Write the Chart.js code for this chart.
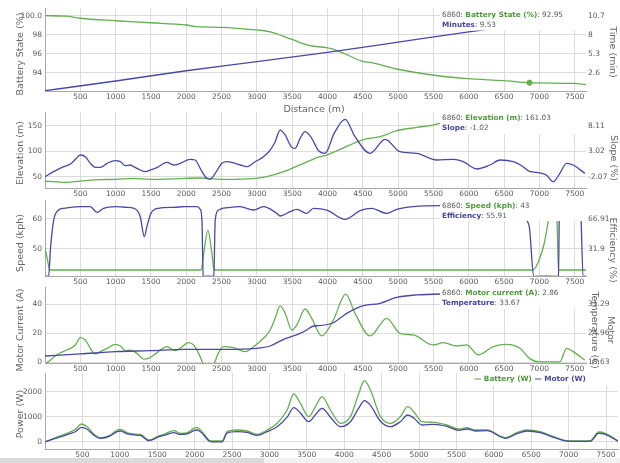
<!DOCTYPE html>
<html>
<head>
<meta charset="utf-8">
<script src="https://cdn.jsdelivr.net/npm/chart.js@4.4.1/dist/chart.umd.min.js"></script>
<style>
  html, body { margin: 0; padding: 0; background: #fff; }
  body { width: 620px; height: 463px; position: relative; overflow: hidden; }
  canvas { position: absolute; left: 0; }
  .track { position: absolute; left: 0; top: 458px; width: 620px; height: 5px; background: #f2f2f2; }
  .thumb { position: absolute; left: 0; top: 458px; width: 264px; height: 5px; background: #dadada; }
</style>
</head>
<body>
<div class="track"></div><div class="thumb"></div>
<script>
// ---- shared distance axis ----
const distTicks = [500, 1000, 1500, 2000, 2500, 3000, 3500, 4000, 4500, 5000, 5500, 6000, 6500, 7000, 7500];
const distMax = 7660;
const cursorDist = 6860;

// ---- battery state / minutes ----
const battDist = [0, 300, 500, 1000, 1500, 2000, 2150, 2490, 2990, 3190, 3495, 3750, 3990, 4180, 4485, 4670, 4980, 5480, 5980, 6490, 6860, 6980, 7480, 7660];
const battPct  = [100.0, 99.95, 99.73, 99.47, 99.26, 99.02, 98.84, 98.78, 98.5, 98.3, 97.5, 96.85, 96.63, 96.2, 95.23, 94.99, 94.39, 93.76, 93.37, 93.16, 92.95, 92.92, 92.87, 92.74];
const minDist = [0, 1000, 2000, 3000, 4000, 5000, 6000, 6860, 7660];
const minVal  = [0.04, 1.42, 2.88, 4.16, 5.5, 6.95, 8.4, 9.53, 10.7];
const battTicks = [94, 96, 98, 100], battTickLabels = ['94', '96', '98', '100.0'];
const minTicks = [2.6, 5.3, 8, 10.7];

// ---- elevation / slope ----
const elevDist = [0, 310, 500, 780, 1000, 1255, 1490, 1985, 2200, 2490, 2990, 3140, 3380, 3495, 3610, 3800, 3895, 3990, 4180, 4485, 4745, 4980, 5265, 5485, 5595, 6000, 6500, 6860, 7300, 7660];
const elevM    = [41.5, 38.9, 41.5, 44.1, 44.8, 46.7, 44.8, 46.7, 47.4, 44.8, 46.7, 50, 59.8, 66.3, 73, 84.6, 89.2, 92.5, 103.6, 121.9, 128.4, 140.2, 146.7, 151.3, 154.6, 157.5, 159.8, 161.03, 161.5, 161.8];
const slopeDist = [0, 123, 265, 359, 430, 501, 571, 642, 713, 784, 878, 996, 1067, 1138, 1208, 1255, 1349, 1420, 1491, 1585, 1726, 1821, 1915, 2056, 2127, 2198, 2292, 2339, 2410, 2504, 2575, 2764, 2858, 2976, 3093, 3188, 3259, 3329, 3400, 3495, 3542, 3612, 3683, 3777, 3872, 3966, 4094, 4249, 4390, 4602, 4815, 5027, 5263, 5546, 5782, 5923, 6112, 6301, 6442, 6631, 6750, 6860, 7007, 7102, 7196, 7290, 7385, 7479, 7644];
const slopePct  = [-2.07, -1.07, -0.07, 0.45, 1.39, 2.26, 1.92, 0.59, -0.21, -0.21, 0.59, 1.13, 0.92, 0.13, 0.26, -0.07, -0.74, -1.07, -0.74, -0.28, 0.79, 0.26, 0.59, 1.39, 1.26, -0.41, -2.41, -2.54, -1.41, 0.59, 0.92, 0.26, -0.07, 0.92, 1.92, 3.25, 4.91, 7.24, 6.25, 3.78, 3.59, 5.59, 6.91, 5.59, 3.12, 2.59, 6.58, 9.37, 5.91, 2.59, 5.38, 2.92, 2.59, 1.26, 1.39, 0.92, -0.54, 0.26, 1.26, 0.92, 0.1, -1.02, -1.3, -1.8, -3.07, -1.41, 0.59, 0.26, -1.41];
const elevTicks = [50, 100, 150];
const slopeTicks = [-2.07, 3.02, 8.11];

// ---- speed / efficiency ----
const speedDist = [0, 30, 70, 2210, 2250, 2306, 2360, 2395, 6860, 6910, 6990, 7070, 7130, 7180, 7235, 7255, 7270, 7660];
const speedKph  = [50.2, 47, 43, 43, 49, 56.3, 49, 43, 43, 43, 46, 52, 60, 68, 70, 55, 43, 43];
const effDist = [0, 50, 80, 123, 194, 265, 500, 642, 736, 830, 996, 1161, 1279, 1349, 1406, 1443, 1500, 1609, 1821, 1986, 2150, 2198, 2222, 2240, 2390, 2410, 2457, 2622, 2763, 2952, 3093, 3282, 3329, 3471, 3565, 3706, 3801, 3990, 4249, 4461, 4626, 4838, 4979, 5215, 5593, 6000, 6500, 6760, 6820, 6860, 6920, 7270, 7285, 7300, 7560, 7580, 7620, 7660];
const effPct  = [0, 0, 35, 65.7, 77.4, 79.4, 81.3, 81.3, 74.7, 79.4, 81.3, 80.5, 78.6, 69.6, 46.3, 58, 73.5, 79.4, 80.5, 81.3, 81.3, 78.2, 65.7, 0, 0, 65.7, 77.4, 80.5, 81.3, 77.4, 81.3, 73.5, 70.4, 75.5, 78.2, 73.5, 79.4, 77.4, 66.5, 76.6, 79.4, 73.5, 78.2, 81.3, 82.5, 82.5, 82.5, 80, 66, 55.91, 0, 0, 89, 95, 95, 89, 0, 0];
const speedTicks = [50, 60];
const effTicks = [31.9, 66.91];

// ---- motor current / temperature ----
const curDist = [0, 60, 165, 307, 430, 501, 571, 642, 713, 784, 878, 996, 1067, 1138, 1208, 1302, 1396, 1467, 1585, 1726, 1844, 1915, 2033, 2104, 2175, 2245, 2310, 2387, 2458, 2528, 2670, 2835, 2953, 3093, 3188, 3259, 3329, 3400, 3495, 3565, 3683, 3777, 3918, 4083, 4258, 4390, 4602, 4838, 5027, 5215, 5498, 5640, 5829, 5970, 6135, 6348, 6537, 6725, 6860, 6985, 7290, 7385, 7479, 7644];
const curA    = [-1, 1, 5.2, 8.6, 12.1, 17.1, 15.5, 9.8, 5.9, 7.5, 9.8, 12.5, 11.4, 8.2, 8.6, 6.3, 2.4, 2.9, 6.8, 10.9, 8.2, 9.8, 13.7, 12.1, 6.3, -1.5, -6, -1.5, 6.8, 10.9, 10.2, 7.5, 10.9, 16.7, 22.4, 30.5, 39.0, 33.9, 22.4, 25.9, 36.9, 30.5, 18.3, 29.3, 47.2, 33.9, 18.3, 30.5, 20.1, 19.0, 12.1, 13.7, 11.4, 12.1, 5.2, 10.9, 12.5, 9.8, 2.86, 0.5, 0.5, 9.8, 7.5, 1.7];
const tempDist = [0, 501, 996, 1491, 1986, 2490, 2990, 3188, 3377, 3518, 3612, 3706, 3800, 3872, 4083, 4272, 4484, 4744, 4980, 5262, 5593, 6000, 6500, 6860, 7300, 7660];
const tempC    = [20.05, 20.49, 21.0, 21.21, 21.5, 21.5, 21.72, 22.23, 23.69, 24.42, 25.0, 25.72, 26.6, 26.67, 27.3, 29.36, 30.96, 31.55, 32.86, 33.37, 33.58, 33.62, 33.65, 33.67, 33.6, 33.5];
const curTicks = [0, 20, 40];
const tempTicks = [18.63, 24.96, 31.29];

// ---- power ----
const powDist = [5, 117, 295, 406, 487, 563, 651, 741, 874, 964, 1008, 1098, 1186, 1275, 1387, 1432, 1499, 1587, 1721, 1810, 1900, 1988, 2033, 2100, 2189, 2234, 2368, 2434, 2568, 2702, 2836, 2969, 3103, 3237, 3325, 3414, 3525, 3615, 3704, 3816, 3950, 4083, 4195, 4270, 4351, 4484, 4617, 4750, 4848, 4929, 5040, 5196, 5374, 5530, 5642, 5753, 5909, 6087, 6154, 6310, 6443, 6621, 6800, 6978, 7156, 7290, 7401, 7490, 7660];
const batteryW = [0, 133, 333, 493, 708, 601, 308, 161, 268, 468, 495, 361, 308, 295, 68, 95, 201, 295, 441, 335, 361, 535, 561, 401, 68, 28, 28, 401, 468, 428, 295, 468, 735, 1268, 1908, 1535, 1001, 1401, 1802, 1268, 735, 1001, 1935, 2441, 2068, 1001, 735, 1001, 1401, 1201, 801, 775, 668, 508, 561, 468, 468, 228, 161, 361, 468, 401, 201, 41, 28, 41, 388, 335, 41];
const motorW   = [-10, 110, 280, 400, 575, 500, 260, 130, 230, 400, 428, 310, 270, 250, 40, 70, 170, 250, 361, 290, 310, 440, 468, 340, 40, -10, -10, 340, 401, 370, 250, 400, 600, 980, 1361, 1150, 801, 1080, 1335, 980, 601, 800, 1350, 1641, 1450, 820, 601, 800, 1068, 950, 668, 695, 615, 455, 508, 428, 441, 201, 135, 321, 428, 361, 175, 20, 10, 20, 335, 295, 15];
const powTicks = [0, 1000, 2000];

// ---- look ----
const GREEN = '#63b04f', BLUE = '#4848a6';
const GREEN_TXT = '#4e9a3b', BLUE_TXT = '#4545a0';
const GRID = '#dcdcdc', AXIS = '#a8a8a8', TICK = '#5a5a5a', TITLE = '#666';
const FAMILY = '"DejaVu Sans", sans-serif';
const tickFont = { family: FAMILY, size: 7.5 };
const TITLE_FONT = '9.5px ' + FAMILY;
const LEG_FONT = '7.3px ' + FAMILY, LEG_BOLD = 'bold 7.3px ' + FAMILY;

const pts = (xs, ys) => xs.map((x, i) => ({ x, y: ys[i] }));
const at = (xs, ys, x) => ys[xs.indexOf(x)];
const fmt = v => String(Math.round(v * 100) / 100);

function line(xs, ys, color, axis) {
  return { data: pts(xs, ys), borderColor: color, backgroundColor: color, borderWidth: 1.3,
           pointRadius: 0, cubicInterpolationMode: 'monotone', yAxisID: axis };
}

function overlay(p) {
  return {
    id: 'overlay',
    afterDraw(chart) {
      const ctx = chart.ctx, T = p.top;
      ctx.save();
      if (p.legend) {
        const L = p.legend;
        ctx.fillStyle = '#fff';
        ctx.fillRect(L.x, L.y - T, L.w, L.h);
        ctx.textBaseline = 'middle';
        L.rows.forEach(r => {
          let x = L.x + 2;
          r.parts.forEach(([text, color, bold]) => {
            ctx.font = bold ? LEG_BOLD : LEG_FONT;
            ctx.fillStyle = color;
            ctx.fillText(text, x, r.y - T);
            x += ctx.measureText(text).width;
          });
        });
      }
      ctx.font = TITLE_FONT;
      ctx.fillStyle = TITLE;
      ctx.textAlign = 'center';
      ctx.textBaseline = 'middle';
      p.titles.forEach(t => {
        ctx.save();
        ctx.translate(t.x, t.y - T);
        ctx.rotate(t.rot || 0);
        ctx.fillText(t.text, 0, 0);
        ctx.restore();
      });
      ctx.restore();
    }
  };
}

function panel(p) {
  const cv = document.createElement('canvas');
  cv.width = 620; cv.height = p.height;
  cv.style.top = p.top + 'px';
  document.body.appendChild(cv);
  const scales = {
    x: {
      type: 'linear', min: 0, max: distMax,
      afterBuildTicks: s => { s.ticks = distTicks.map(v => ({ value: v })); },
      ticks: { font: tickFont, color: TICK, padding: 2, maxRotation: 0, autoSkip: false, callback: v => String(v) },
      grid: { color: GRID, drawTicks: false },
      border: { color: AXIS },
      afterFit: s => { s.height = p.xh; s.paddingLeft = 0; s.paddingRight = 0; }
    },
    y: {
      position: 'left', min: p.y.min, max: p.y.max,
      afterBuildTicks: s => { s.ticks = p.y.ticks.map(v => ({ value: v })); },
      ticks: { font: tickFont, color: TICK, padding: 3, autoSkip: false,
               callback: (v, i) => (p.y.labels ? p.y.labels[i] : String(v)) },
      grid: { color: GRID, drawTicks: false },
      border: { color: AXIS },
      afterFit: s => { s.width = 45; s.paddingTop = 0; s.paddingBottom = 0; }
    }
  };
  if (p.y2) {
    scales.y2 = {
      position: 'right', min: p.y2.min, max: p.y2.max,
      afterBuildTicks: s => { s.ticks = p.y2.ticks.map(v => ({ value: v })); },
      ticks: { font: tickFont, color: TICK, padding: 2, autoSkip: false, callback: v => String(v) },
      grid: { display: false, drawTicks: false },
      border: { display: false },
      afterFit: s => { s.width = 34; s.paddingTop = 0; s.paddingBottom = 0; }
    };
  }
  new Chart(cv, {
    type: 'line',
    data: { datasets: p.datasets },
    options: {
      responsive: false, animation: false, events: [],
      layout: { autoPadding: false, padding: { left: 0, right: p.padRight || 0, top: 0, bottom: 0 } },
      plugins: { legend: { display: false }, tooltip: { enabled: false } },
      scales
    },
    plugins: [overlay(p)]
  });
}

const cursorLabel = ['6860: ', TICK];

// 1. battery state and elapsed time
panel({
  top: 8, height: 108, xh: 25,
  y:  { min: 92.074, max: 100.81, ticks: battTicks, labels: battTickLabels },
  y2: { min: 0, max: 11.794, ticks: minTicks },
  datasets: [
    line(minDist, minVal, BLUE, 'y2'),
    line(battDist, battPct, GREEN, 'y'),
    { data: [{ x: cursorDist, y: at(battDist, battPct, cursorDist) }], showLine: false,
      pointRadius: 2.6, pointBackgroundColor: GREEN, pointBorderColor: GREEN, yAxisID: 'y' }
  ],
  legend: { x: 440, y: 8, w: 146, h: 22.5, rows: [
    { y: 15, parts: [cursorLabel, ['Battery State (%)', GREEN_TXT, true], [': ' + fmt(at(battDist, battPct, cursorDist)), TICK]] },
    { y: 25, parts: [['Minutes', BLUE_TXT, true], [': ' + fmt(at(minDist, minVal, cursorDist)), TICK]] }
  ] },
  titles: [
    { text: 'Battery State (%)', x: 21, y: 54, rot: -Math.PI / 2 },
    { text: 'Time (min)', x: 612, y: 52, rot: Math.PI / 2 },
    { text: 'Distance (m)', x: 314, y: 110 }
  ]
});

// 2. elevation and slope
panel({
  top: 112, height: 90, xh: 14,
  y:  { min: 27.84, max: 176.86, ticks: elevTicks },
  y2: { min: -4.33, max: 10.84, ticks: slopeTicks },
  datasets: [
    line(slopeDist, slopePct, BLUE, 'y2'),
    line(elevDist, elevM, GREEN, 'y')
  ],
  legend: { x: 440, y: 112, w: 146, h: 22, rows: [
    { y: 118.5, parts: [cursorLabel, ['Elevation (m)', GREEN_TXT, true], [': ' + fmt(at(elevDist, elevM, cursorDist)), TICK]] },
    { y: 128.5, parts: [['Slope', BLUE_TXT, true], [': ' + fmt(at(slopeDist, slopePct, cursorDist)), TICK]] }
  ] },
  titles: [
    { text: 'Elevation (m)', x: 21, y: 153, rot: -Math.PI / 2 },
    { text: 'Slope (%)', x: 613, y: 158, rot: Math.PI / 2 }
  ]
});

// 3. speed and efficiency
panel({
  top: 200, height: 90, xh: 14,
  y:  { min: 41, max: 66.33, ticks: speedTicks },
  y2: { min: 0.39, max: 89.08, ticks: effTicks },
  datasets: [
    line(effDist, effPct, BLUE, 'y2'),
    line(speedDist, speedKph, GREEN, 'y')
  ],
  legend: { x: 440, y: 200, w: 146, h: 21, rows: [
    { y: 205.7, parts: [cursorLabel, ['Speed (kph)', GREEN_TXT, true], [': ' + fmt(at(speedDist, speedKph, cursorDist)), TICK]] },
    { y: 215.7, parts: [['Efficiency', BLUE_TXT, true], [': ' + fmt(at(effDist, effPct, cursorDist)), TICK]] }
  ] },
  titles: [
    { text: 'Speed (kph)', x: 21, y: 243, rot: -Math.PI / 2 },
    { text: 'Efficiency (%)', x: 612, y: 250, rot: Math.PI / 2 }
  ]
});

// 4. motor current and motor temperature
panel({
  top: 287, height: 89, xh: 13,
  y:  { min: -0.34, max: 52.07, ticks: curTicks },
  y2: { min: 18.52, max: 35.11, ticks: tempTicks },
  datasets: [
    line(tempDist, tempC, BLUE, 'y2'),
    line(curDist, curA, GREEN, 'y')
  ],
  legend: { x: 440, y: 287, w: 146, h: 22, rows: [
    { y: 293.3, parts: [cursorLabel, ['Motor current (A)', GREEN_TXT, true], [': ' + fmt(at(curDist, curA, cursorDist)), TICK]] },
    { y: 303.3, parts: [['Temperature', BLUE_TXT, true], [': ' + fmt(at(tempDist, tempC, cursorDist)), TICK]] }
  ] },
  titles: [
    { text: 'Motor Current (A)', x: 21, y: 330, rot: -Math.PI / 2 },
    { text: 'Motor', x: 610, y: 330, rot: Math.PI / 2 },
    { text: 'Temperature (C)', x: 594, y: 330, rot: Math.PI / 2 }
  ]
});

// 5. battery and motor power
panel({
  top: 373, height: 90, xh: 14, padRight: 2,
  y: { min: -292, max: 2748, ticks: powTicks },
  datasets: [
    line(powDist, motorW, BLUE, 'y'),
    line(powDist, batteryW, GREEN, 'y')
  ],
  legend: { x: 472, y: 373, w: 146, h: 12, rows: [
    { y: 379, parts: [['\u2014 Battery (W) ', GREEN_TXT, true], ['\u2014 Motor (W)', BLUE_TXT, true]] }
  ] },
  titles: [
    { text: 'Power (W)', x: 21, y: 414, rot: -Math.PI / 2 }
  ]
});
</script>
</body>
</html>
